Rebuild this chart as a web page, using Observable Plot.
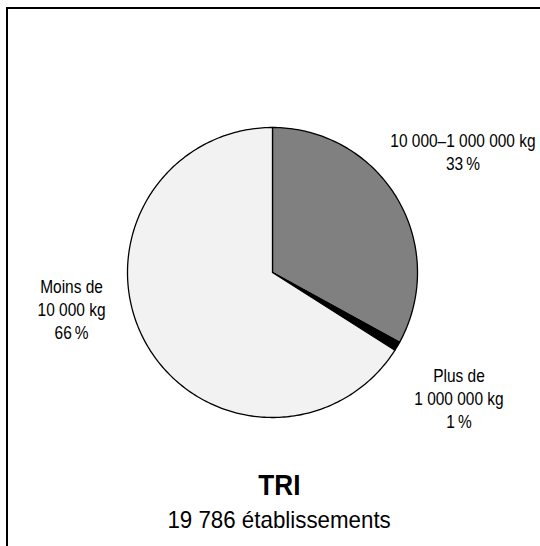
<!DOCTYPE html>
<html>
<head>
<meta charset="utf-8">
<script src="https://cdn.jsdelivr.net/npm/d3@7"></script>
<script src="https://cdn.jsdelivr.net/npm/@observablehq/plot@0.6"></script>
<style>
  html, body { margin: 0; padding: 0; background: #fff; }
  body { font-family: "Liberation Sans", Arial, sans-serif; }
  #wrap { position: relative; width: 540px; height: 546px; overflow: hidden; background: #fff; }
  #frame { position: absolute; left: 6px; top: 7px; width: 700px; height: 700px;
           border-top: 2px solid #000; border-left: 2px solid #000; box-sizing: border-box; }
  #chart { position: absolute; left: 0; top: 0; }
  .ttl { position: absolute; left: 0; width: 558px; text-align: center; color: #000; white-space: nowrap; }
  .ttl span { display: inline-block; transform-origin: 50% 50%; }
  #title { top: 469px; font-size: 29px; line-height: 32px; font-weight: bold; }
  #title span { transform: scaleX(0.9); }
  #subtitle { top: 506px; font-size: 24px; line-height: 28px; }
  #subtitle span { transform: scaleX(0.93); }
</style>
</head>
<body>
<div id="wrap">
  <div id="frame"></div>
  <div id="chart"></div>
  <div id="title" class="ttl"><span>TRI</span></div>
  <div id="subtitle" class="ttl"><span>19 786 établissements</span></div>
</div>
<script>
// ---- data ----
const categories = ["10 000–1 000 000 kg", "Plus de 1 000 000 kg", "Moins de 10 000 kg"];
const labels = ["10 000–1 000 000 kg\n33\u202F%", "Plus de\n1 000 000 kg\n1\u202F%", "Moins de\n10 000 kg\n66\u202F%"];
const shares = [33, 1, 66];
const colors = ["#808080", "#000000", "#f2f2f2"];

// ---- label layout (pixel nudges from each slice's mid-angle anchor) ----
const labelRadius = 1.55;
const labelNudge = [[-3, -7], [-7, 11], [-4, -72]];

// ---- build slice outlines from shares ----
const total = d3.sum(shares);
let cum = 0;
const slicePoints = [];
const mids = [];
shares.forEach((s, i) => {
  const a0 = (cum / total) * 2 * Math.PI;
  const a1 = ((cum + s) / total) * 2 * Math.PI;
  cum += s;
  mids.push((a0 + a1) / 2);
  const n = Math.max(2, Math.ceil((a1 - a0) / (Math.PI / 180)));
  slicePoints.push({key: categories[i], x: 0, y: 0});
  for (let k = 0; k <= n; k++) {
    const a = a0 + (a1 - a0) * k / n;
    slicePoints.push({key: categories[i], x: Math.sin(a), y: Math.cos(a)});
  }
  slicePoints.push({key: categories[i], x: 0, y: 0});
});

const labelMarks = labels.map((t, i) => Plot.text([t], {
  x: () => Math.sin(mids[i]) * labelRadius,
  y: () => Math.cos(mids[i]) * labelRadius,
  text: d => d,
  fontSize: 18,
  lineHeight: 1.28,
  fill: "#000",
  dx: labelNudge[i][0],
  dy: labelNudge[i][1]
}));

const chart = Plot.plot({
  width: 540,
  height: 460,
  margin: 0,
  style: {fontFamily: "Liberation Sans, Arial, sans-serif", background: "transparent"},
  x: {domain: [-1, 1], range: [127, 417], axis: null},
  y: {domain: [-1, 1], range: [417, 127], axis: null},
  color: {domain: categories, range: colors},
  marks: [
    Plot.line(slicePoints, {x: "x", y: "y", z: "key", fill: "key", stroke: "#000", strokeWidth: 1.3, strokeLinejoin: "round"}),
    ...labelMarks
  ]
});
// condense the label glyphs horizontally (narrow typeface look)
chart.querySelectorAll("text").forEach(t => {
  const tr = t.getAttribute("transform") || "";
  t.setAttribute("transform", tr + " scale(0.86,1)");
});
document.getElementById("chart").appendChild(chart);
</script>
</body>
</html>
